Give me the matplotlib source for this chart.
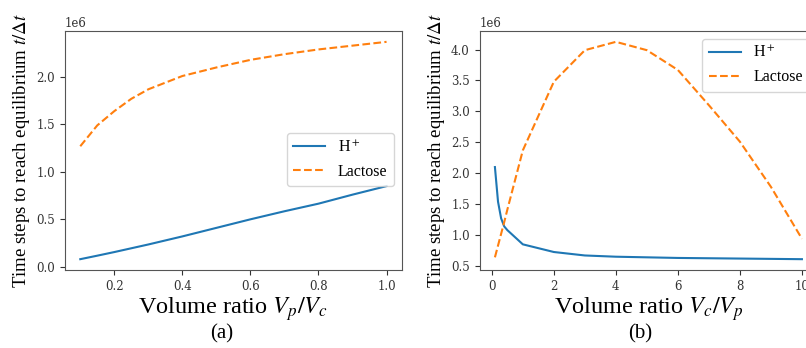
import matplotlib
matplotlib.use('Agg')
import matplotlib.pyplot as plt

# (a) volume ratio Vp/Vc
ratio_a = [0.1, 0.15, 0.2, 0.25, 0.3, 0.4, 0.5, 0.6, 0.7, 0.8, 0.9, 1.0]
hplus_a = [0.08, 0.117, 0.155, 0.195, 0.235, 0.32, 0.41, 0.5, 0.585, 0.665, 0.76, 0.85]
lactose_a = [1.27, 1.49, 1.64, 1.77, 1.87, 2.01, 2.10, 2.18, 2.24, 2.29, 2.33, 2.37]

# (b) volume ratio Vc/Vp
ratio_b = [0.1, 0.2, 0.3, 0.4, 0.5, 1, 2, 3, 4, 5, 6, 7, 8, 9, 10]
hplus_b = [2.10, 1.54, 1.27, 1.14, 1.08, 0.85, 0.726, 0.67, 0.65, 0.64, 0.63, 0.625, 0.62, 0.615, 0.61]
lactose_b = [0.64, 0.83, 1.02, 1.21, 1.41, 2.37, 3.48, 3.99, 4.125, 3.99, 3.67, 3.10, 2.51, 1.78, 0.94]

plt.rcParams['font.family'] = 'serif'
plt.rcParams['font.serif'] = ['DejaVu Serif']
plt.rcParams['mathtext.fontset'] = 'stix'

times = 'Liberation Serif'
edge = '#555555'


def style_axes(ax):
    for spine in ax.spines.values():
        spine.set_color(edge)
    ax.tick_params(labelsize=8.5, colors='#333333', length=3.5)
    ax.yaxis.get_offset_text().set_fontsize(8.5)
    ax.yaxis.get_offset_text().set_color('#333333')


def draw_panel(ax, x, h, lac, xlabel):
    ax.plot(x, [v * 1e6 for v in h], color='#1f77b4', lw=1.5, label=r'H$^+$')
    ax.plot(x, [v * 1e6 for v in lac], color='#ff7f0e', lw=1.5, ls='--', label='Lactose')
    ax.set_ylabel(r'Time steps to reach equilibrium $t/\Delta t$', family=times, fontsize=13.5, labelpad=3)
    ax.set_xlabel(xlabel, family=times, fontsize=17.5, labelpad=2)
    style_axes(ax)


fig = plt.figure(figsize=(8.06, 3.48), dpi=100)

ax1 = fig.add_axes([0.0806, 0.224, 0.418, 0.687])
draw_panel(ax1, ratio_a, hplus_a, lactose_a, r'Volume ratio $V_p/V_c$')
ax1.legend(loc='center right', bbox_to_anchor=(1.0, 0.462), prop={'family': times, 'size': 11.5})

ax2 = fig.add_axes([0.595, 0.224, 0.419, 0.687])
draw_panel(ax2, ratio_b, hplus_b, lactose_b, r'Volume ratio $V_c/V_p$')
ax2.legend(loc='upper right', prop={'family': times, 'size': 11.5})

fig.text(0.275, 0.04, '(a)', ha='center', va='center', family=times, fontsize=15)
fig.text(0.794, 0.04, '(b)', ha='center', va='center', family=times, fontsize=15)

fig.savefig('out.png', dpi=100)
